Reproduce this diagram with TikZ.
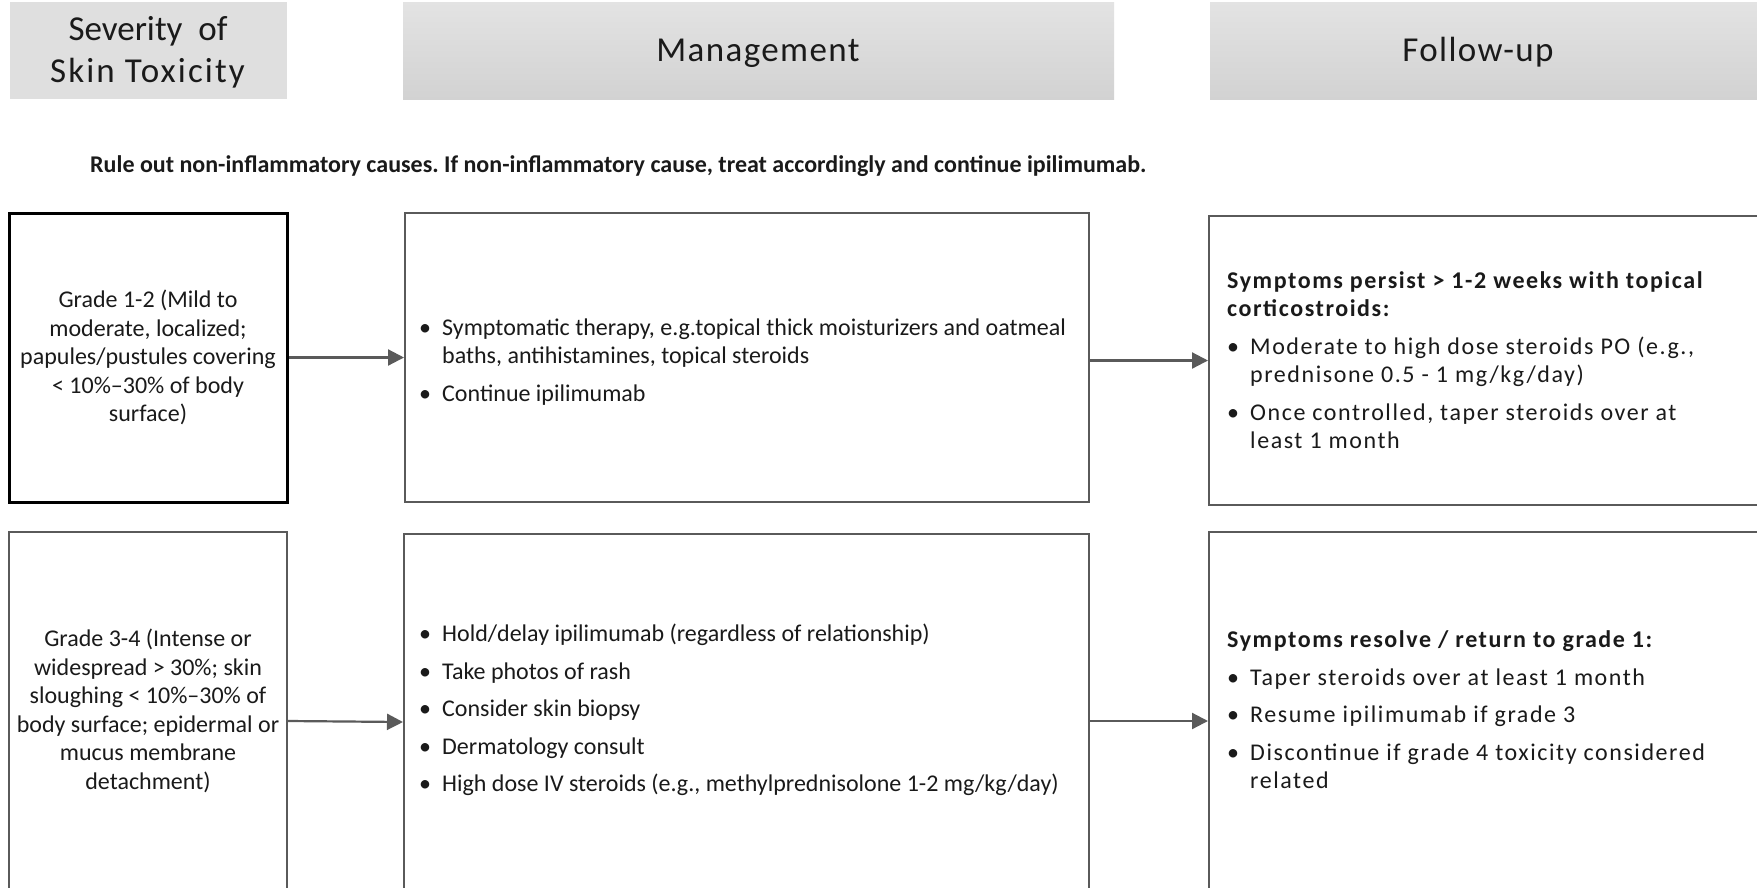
\documentclass[tikz,border=0pt]{standalone}
\usepackage{fontspec}
\setmainfont{Carlito}
\newfontfamily\headfont[LetterSpace=4]{Carlito}
\newfontfamily\headwide[LetterSpace=6]{Carlito}
\newfontfamily\spaced[LetterSpace=6.5]{Carlito}
\usetikzlibrary{arrows.meta}
\frenchspacing

\definecolor{hdflat}{HTML}{DFDFDF}
\definecolor{hdtop}{HTML}{E3E3E3}
\definecolor{hdbot}{HTML}{D2D2D2}
\definecolor{edge}{HTML}{5A5A5A}
\definecolor{ink}{HTML}{1A1A1A}

% bullet with hanging indent
\newcommand{\itm}[1]{\makebox[23pt][l]{\textbullet}#1}
\newcommand{\cont}{\hspace*{23pt}}

\begin{document}
\begin{tikzpicture}[x=1pt,y=-1pt,
  hdbox/.style={inner sep=0pt, minimum height=97pt},
  hdtext/.style={inner sep=0pt, anchor=base, text=ink,
    font=\headfont\fontsize{35}{42}\selectfont},
  box/.style={draw=edge, line width=2pt, fill=white, inner sep=0pt},
  txt/.style={inner sep=0pt, text=ink, font=\fontsize{24}{28.5}\selectfont},
  rtxt/.style={inner sep=0pt, text=ink, font=\spaced\fontsize{24}{28.5}\selectfont},
  conn/.style={draw=edge, line width=2.2pt, -{Triangle[length=16pt,width=16pt]}}
]
\useasboundingbox (0,0) rectangle (1757,887);
\fill[white] (0,0) rectangle (1757,887);

% column headers
\node[hdbox, fill=hdflat, minimum width=277pt] (hsev) at (148.3,50.5) {};
\node[hdbox, top color=hdtop, bottom color=hdbot, minimum width=711pt] (hman) at (758.5,50.5) {};
\node[hdbox, top color=hdtop, bottom color=hdbot, minimum width=547pt] (hfol) at (1483.5,50.5) {};

\node[hdtext, font=\fontsize{35}{42}\selectfont] (hsev1) at (148,40) {Severity\ \ of};
\node[hdtext, font=\headwide\fontsize{35}{42}\selectfont] (hsev2) at (147.5,82) {Skin Toxicity};
\node[hdtext] (hmant) at (758,61.7) {Management};
\node[hdtext] (hfolt) at (1478,61.7) {Follow-up};

% general instruction
\node[anchor=west, inner sep=0pt, text=ink, font=\bfseries\fontsize{24}{28}\selectfont] (rule) at (90,166)
  {Rule out non-inflammatory causes. If non-inflammatory cause, treat accordingly and continue ipilimumab.};

% grade 1-2 row
\node[box, draw=black, line width=3pt, minimum width=278pt, minimum height=289pt] (g12) at (148,357.5) {};
\node[box, minimum width=684pt, minimum height=289pt] (m1) at (747,357.5) {};
\node[box, minimum width=560pt, minimum height=289pt] (f1) at (1489,360.5) {};

\node[txt, align=center] (g12t) at (g12) {Grade 1-2 (Mild to\\moderate, localized;\\papules/pustules covering\\< 10\%--30\% of body\\surface)};
\node[txt, align=left, anchor=west] (m1t) at (419,362)
  {\itm{Symptomatic therapy, e.g.topical thick moisturizers and oatmeal}\\
   \cont baths, antihistamines, topical steroids\\[9pt]
   \itm{Continue ipilimumab}};
\node[rtxt, align=left, anchor=west] (f1t) at (1227,360)
  {\textbf{Symptoms persist > 1-2 weeks with topical}\\
   \textbf{corticostroids:}\\[9pt]
   \itm{Moderate to high dose steroids PO (e.g.,}\\
   \cont prednisone 0.5 - 1 mg/kg/day)\\[9pt]
   \itm{Once controlled, taper steroids over at}\\
   \cont least 1 month};

% grade 3-4 row
\node[box, minimum width=278pt, minimum height=378pt] (g34) at (148,721) {};
\node[box, minimum width=685pt, minimum height=376pt] (m2) at (746.5,722) {};
\node[box, minimum width=560pt, minimum height=378pt] (f2) at (1489,721) {};

\node[txt, align=center] (g34t) at (148,711) {Grade 3-4 (Intense or\\widespread > 30\%; skin\\sloughing < 10\%--30\% of\\body surface; epidermal or\\mucus membrane\\detachment)};
\node[txt, align=left, anchor=west] (m2t) at (419,710)
  {\itm{Hold/delay ipilimumab (regardless of relationship)}\\[9pt]
   \itm{Take photos of rash}\\[9pt]
   \itm{Consider skin biopsy}\\[9pt]
   \itm{Dermatology consult}\\[9pt]
   \itm{High dose IV steroids (e.g., methylprednisolone 1-2 mg/kg/day)}};
\node[rtxt, align=left, anchor=west] (f2t) at (1227,710)
  {\textbf{Symptoms resolve / return to grade 1:}\\[9pt]
   \itm{Taper steroids over at least 1 month}\\[9pt]
   \itm{Resume ipilimumab if grade 3}\\[9pt]
   \itm{Discontinue if grade 4 toxicity considered}\\
   \cont related};

% connectors
\draw[conn] (g12.east) -- (m1.west);
\draw[conn] (m1.east |- f1.west) -- (f1.west);
\draw[conn] (g34.east) -- (m2.west);
\draw[conn] (m2.east |- f2.west) -- (f2.west);
\end{tikzpicture}
\end{document}
